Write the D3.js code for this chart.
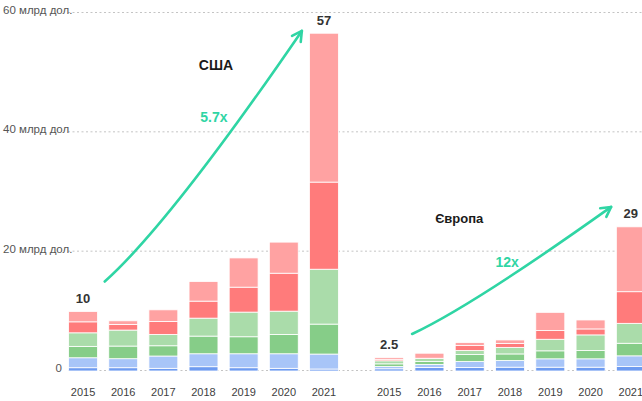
<!DOCTYPE html>
<html>
<head>
<meta charset="utf-8">
<script src="https://cdn.jsdelivr.net/npm/d3@7/dist/d3.min.js"></script>
<style>
  html, body { margin: 0; padding: 0; background: #fff; }
  svg { display: block; font-family: "Liberation Sans Narrow", "Liberation Sans", sans-serif; }
</style>
</head>
<body>
<svg id="chart" width="642" height="401"></svg>
<script>
// ---- data ----
const years = ["2015", "2016", "2017", "2018", "2019", "2020", "2021"];
const seriesKeys = ["s1", "s2", "s3", "s4", "s5", "s6"];

// США (bottom to top)
const usBlueDark  = [0.55, 0.55, 0.45, 0.72, 0.55, 0.45, 0.33];
const usBlueLight = [1.67, 1.51, 2.06, 2.17, 2.34, 2.44, 2.51];
const usGreenDark = [1.91, 2.12, 1.72, 2.96, 2.85, 3.24, 5.02];
const usGreenLight= [2.27, 2.68, 1.90, 3.01, 4.13, 3.90, 9.20];
const usRedDark   = [1.84, 0.95, 2.18, 2.85, 4.18, 6.36, 14.60];
const usRedLight  = [1.74, 0.60, 1.94, 3.29, 4.90, 5.21, 24.95];

// Європа (bottom to top)
const euBlueDark  = [0.37, 0.59, 0.59, 0.64, 0.64, 0.64, 0.75];
const euBlueLight = [0.38, 0.50, 1.00, 1.12, 1.40, 1.40, 1.79];
const euGreenDark = [0.45, 0.50, 1.17, 1.10, 1.34, 1.39, 2.11];
const euGreenLight= [0.51, 0.50, 0.67, 1.10, 1.94, 2.62, 3.34];
const euRedDark   = [0.26, 0.05, 0.83, 0.67, 1.45, 1.00, 5.30];
const euRedLight  = [0.29, 0.84, 0.51, 0.57, 3.06, 1.50, 10.87];

const yTickValues = [0, 20, 40, 60];
const yTickLabels = ["0", "20 млрд дол.", "40 млрд дол", "60 млрд дол."];

const usTotalLabel = { first: "10", last: "57" };
const euTotalLabel = { first: "2.5", last: "29" };
const usTitle = "США", euTitle = "Європа";
const usGrowth = "5.7x", euGrowth = "12x";

// ---- styles ----
const colors = ["#6e9bf0", "#a8c5f8", "#86cd88", "#aadcaa", "#ff7b7b", "#ffa2a2"];
const accent = "#2fd5a4";

const svg = d3.select("#chart");
const W = 642, H = 401;

const y = d3.scaleLinear().domain([0, 60]).range([371, 13]);
const xUS = d3.scaleBand().domain(years).range([63, 344]).paddingInner(0.28).paddingOuter(0.14);
const xEU = d3.scaleBand().domain(years).range([369, 651]).paddingInner(0.28).paddingOuter(0.14);

function table(arrs) {
  return years.map((yr, i) => {
    const row = { year: yr };
    seriesKeys.forEach((k, j) => row[k] = arrs[j][i]);
    return row;
  });
}
const usData = table([usBlueDark, usBlueLight, usGreenDark, usGreenLight, usRedDark, usRedLight]);
const euData = table([euBlueDark, euBlueLight, euGreenDark, euGreenLight, euRedDark, euRedLight]);
const stack = d3.stack().keys(seriesKeys);

// gridlines
svg.append("g").selectAll("line").data(yTickValues).join("line")
  .attr("x1", 68).attr("x2", W)
  .attr("y1", d => y(d) - 0.5).attr("y2", d => y(d) - 0.5)
  .attr("stroke", "#c4c4c4").attr("stroke-width", 1).attr("stroke-dasharray", "2,2.5");

// y tick labels
svg.append("g").selectAll("text").data(yTickValues).join("text")
  .attr("x", (d, i) => yTickLabels[i].length > 1 ? 3 : 62)
  .attr("y", d => y(d) - 3)
  .attr("text-anchor", (d, i) => yTickLabels[i].length > 1 ? "start" : "end")
  .attr("dominant-baseline", "central")
  .attr("font-size", 11.5).attr("fill", "#555")
  .text((d, i) => yTickLabels[i]);

function drawPanel(data, x) {
  const g = svg.append("g");
  const layers = stack(data);
  g.selectAll("g.layer").data(layers).join("g").attr("class", "layer")
    .attr("fill", (d, i) => colors[i])
    .selectAll("rect").data(d => d).join("rect")
    .attr("x", d => x(d.data.year))
    .attr("width", x.bandwidth())
    .attr("y", d => y(d[1]))
    .attr("height", d => Math.max(0, y(d[0]) - y(d[1])))
    .attr("stroke", "#ffffff").attr("stroke-width", 0.8);
  // year labels
  g.selectAll("text.yr").data(years).join("text").attr("class", "yr")
    .attr("x", d => Math.min(x(d) + x.bandwidth() / 2, W - 11))
    .attr("y", 392)
    .attr("text-anchor", "middle").attr("dominant-baseline", "central")
    .attr("font-size", 11).attr("fill", "#404040")
    .text(d => d);
  return layers;
}
const usLayers = drawPanel(usData, xUS);
const euLayers = drawPanel(euData, xEU);

function total(layers, i) { return layers[layers.length - 1][i][1]; }

// total labels
function totalLabel(x, layers, idx, txt) {
  svg.append("text")
    .attr("x", x(years[idx]) + x.bandwidth() / 2)
    .attr("y", y(total(layers, idx)) - 13)
    .attr("text-anchor", "middle").attr("dominant-baseline", "central")
    .attr("font-size", 13).attr("font-weight", "bold").attr("fill", "#333")
    .text(txt);
}
totalLabel(xUS, usLayers, 0, usTotalLabel.first);
totalLabel(xUS, usLayers, 6, usTotalLabel.last);
totalLabel(xEU, euLayers, 0, euTotalLabel.first);
totalLabel(xEU, euLayers, 6, euTotalLabel.last);

// arrows (points in data space: [year, fraction of step, value])
function pt(x, p) { return [x(p[0]) + x.step() * p[1], y(p[2])]; }
function arrow(x, p0, c, p2) {
  const a = pt(x, p0), b = pt(x, c), e = pt(x, p2);
  const path = d3.path();
  path.moveTo(a[0], a[1]);
  path.quadraticCurveTo(b[0], b[1], e[0], e[1]);
  svg.append("path").attr("d", path.toString())
    .attr("fill", "none").attr("stroke", accent).attr("stroke-width", 2.6).attr("stroke-linecap", "round");
  const ang = Math.atan2(e[1] - b[1], e[0] - b[0]);
  const L = 11, spread = 0.5;
  const head = d3.path();
  head.moveTo(e[0] - L * Math.cos(ang - spread), e[1] - L * Math.sin(ang - spread));
  head.lineTo(e[0], e[1]);
  head.lineTo(e[0] - L * Math.cos(ang + spread), e[1] - L * Math.sin(ang + spread));
  svg.append("path").attr("d", head.toString())
    .attr("fill", "none").attr("stroke", accent).attr("stroke-width", 2.6)
    .attr("stroke-linecap", "round").attr("stroke-linejoin", "round");
}
arrow(xUS, ["2015", 0.9, 15], ["2017", 0.53, 24.8], ["2021", -0.19, 57]);
arrow(xEU, ["2015", 0.93, 6.2], ["2017", 0.42, 10.9], ["2021", -0.13, 27.5]);

// titles and growth labels
function label(x, p, txt, color, size) {
  const q = pt(x, p);
  svg.append("text").attr("x", q[0]).attr("y", q[1])
    .attr("text-anchor", "middle").attr("dominant-baseline", "central")
    .attr("font-size", size).attr("font-weight", "bold").attr("fill", color)
    .text(txt);
}
label(xUS, ["2018", 0.67, 51.3], usTitle, "#1a1a1a", 14);
label(xUS, ["2018", 0.62, 42.6], usGrowth, accent, 14);
label(xEU, ["2017", 0.1, 25.6], euTitle, "#1a1a1a", 13);
label(xEU, ["2018", 0.29, 18.3], euGrowth, accent, 14);
</script>
</body>
</html>
